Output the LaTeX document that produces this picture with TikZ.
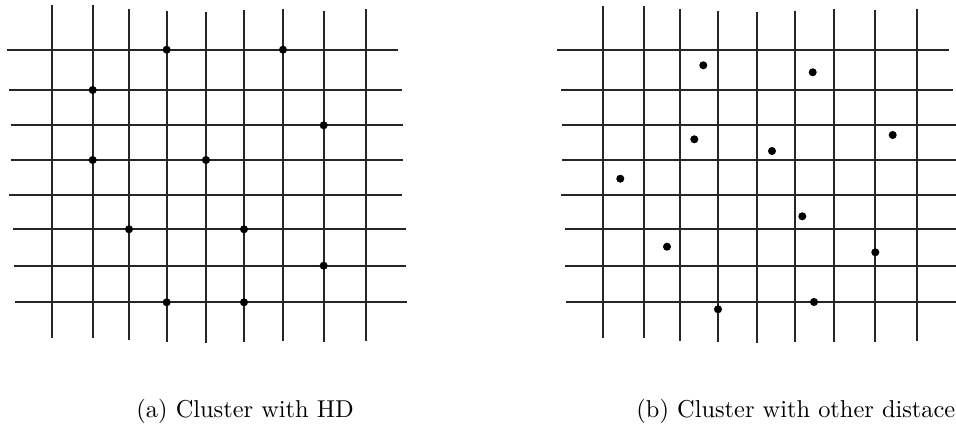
\documentclass[tikz,border=0pt]{standalone}
\begin{document}
\begin{tikzpicture}[x=0.41pt,y=-0.41pt,
  gridline/.style={line width=0.75pt, black!85},
  dot/.style={circle, fill=black, inner sep=0pt, minimum size=3.3pt},
  caption/.style={anchor=base west, inner sep=0pt}]
\useasboundingbox (0,0) rectangle (956,425);
% ---- left grid (a)
\foreach \x/\t/\b in {51.7/5/337.7, 92.7/5/337.7, 129/9/340, 166.7/10.7/341.7, 206/11.7/343.3, 244/10/342.3, 283/9/340.7, 323.7/10.7/342.3, 366/9/340.7}
  \draw[gridline] (\x,\t) -- (\x,\b);
\foreach \y/\l/\r in {49.7/6.7/398, 90/9.3/401.7, 125.3/10.7/402.7, 160/10.7/402.7, 194.7/9.3/401.7, 229.3/13/405.7, 265.7/13.7/405.7, 302.3/15.3/407}
  \draw[gridline] (\l,\y) -- (\r,\y);
\foreach \px/\py [count=\i] in {166.7/49.7, 283/49.7, 92.7/90, 323.7/125.3, 92.7/160, 206/160, 129/229.3, 244/229.3, 323.7/265.7, 166.7/302.3, 244/302.3}
  \node[dot] (a\i) at (\px,\py) {};
% ---- right grid (b)
\foreach \x/\t/\b in {602.7/6/338, 643.7/6/338, 680/9/340.7, 717.7/10.7/341.7, 757.3/11.7/343.3, 795/10.7/342.3, 834/9/341.7, 874.7/10/342.3, 916.7/9/340.7}
  \draw[gridline] (\x,\t) -- (\x,\b);
\foreach \y/\l/\r in {49.7/557.3/949.3, 90/560.7/953, 125.3/562/958, 160/562/958, 194.7/560.7/958, 229.3/564.7/958, 265.7/564.7/958, 302.3/566/958}
  \draw[gridline] (\l,\y) -- (\r,\y);
\foreach \px/\py [count=\i] in {703.3/65.3, 812.7/72.3, 694.3/139.3, 892.7/135, 772/151, 620.3/178.7, 802.3/216.3, 667/246.7, 875.3/252.3, 718/309.3, 814/302}
  \node[dot] (b\i) at (\px,\py) {};
% ---- captions
\node[caption] (capa) at (136,417) {(a) Cluster with HD};
\node[caption] (capb) at (636,417) {(b) Cluster with other distace};
\end{tikzpicture}
\end{document}
